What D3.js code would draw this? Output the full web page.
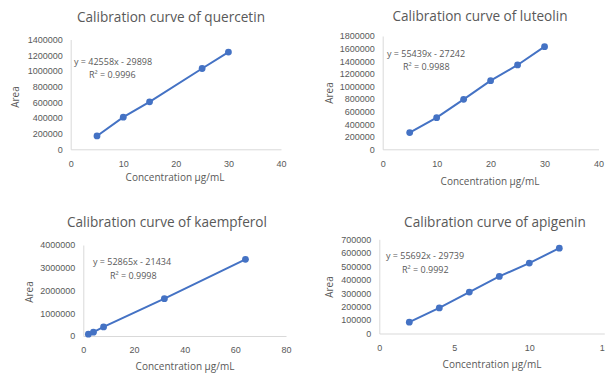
<!DOCTYPE html>
<html>
<head>
<meta charset="utf-8">
<script src="https://cdn.jsdelivr.net/npm/d3@7"></script>
<style>
  body { margin: 0; background: #fff; }
  svg { display: block; font-family: "Open Sans", sans-serif; }
</style>
</head>
<body>
<div id="chart"></div>
<script>
// data
const quercetinConc = [5, 10, 15, 25, 30];
const quercetinArea = [170000, 410000, 605000, 1030000, 1240000];
const luteolinConc = [5, 10, 15, 20, 25, 30];
const luteolinArea = [265000, 503000, 794000, 1090000, 1340000, 1630000];
const kaempferolConc = [2, 4, 8, 32, 64];
const kaempferolArea = [80000, 170000, 400000, 1640000, 3370000];
const apigeninConc = [2, 4, 6, 8, 10, 12];
const apigeninArea = [84000, 190000, 308000, 424000, 523000, 634000];

const quercetinXTicks = [0, 10, 20, 30, 40];
const quercetinYTicks = [0, 200000, 400000, 600000, 800000, 1000000, 1200000, 1400000];
const luteolinXTicks = [0, 10, 20, 30, 40];
const luteolinYTicks = [0, 200000, 400000, 600000, 800000, 1000000, 1200000, 1400000, 1600000, 1800000];
const kaempferolXTicks = [0, 20, 40, 60, 80];
const kaempferolYTicks = [0, 1000000, 2000000, 3000000, 4000000];
const apigeninXTicks = [0, 5, 10, 15];
const apigeninYTicks = [0, 100000, 200000, 300000, 400000, 500000, 600000, 700000];

const titles = ['Calibration curve of quercetin', 'Calibration curve of luteolin',
  'Calibration curve of kaempferol', 'Calibration curve of apigenin'];
const equations = ['y = 42558x - 29898', 'y = 55439x - 27242', 'y = 52865x - 21434', 'y = 55692x - 29739'];
const rSquared = ['R\u00b2 = 0.9996', 'R\u00b2 = 0.9988', 'R\u00b2 = 0.9998', 'R\u00b2 = 0.9992'];
const xTitle = 'Concentration \u00b5g/mL';
const yTitle = 'Area';

const width = 605, height = 373;
const blue = '#4472c4', grey = '#595959', axisGrey = '#d9d9d9';

// panel geometry
const panels = [
  { conc: quercetinConc, area: quercetinArea, xt: quercetinXTicks, yt: quercetinYTicks,
    x0: 70.7, x1: 281, y0: 149.3, y1: 39.5, tx: 171, ty: 18, ax: 16, ay: 97,
    ex: 74, ey: 63, rx: 89, ry: 76, cx: 175, cy: 178 },
  { conc: luteolinConc, area: luteolinArea, xt: luteolinXTicks, yt: luteolinYTicks,
    x0: 382.7, x1: 598.5, y0: 149.3, y1: 36, tx: 480, ty: 17, ax: 330, ay: 93,
    ex: 387, ey: 55, rx: 403, ry: 68, cx: 490, cy: 182 },
  { conc: kaempferolConc, area: kaempferolArea, xt: kaempferolXTicks, yt: kaempferolYTicks,
    x0: 83.3, x1: 286, y0: 336, y1: 245, tx: 167, ty: 223, ax: 30, ay: 292,
    ex: 93, ey: 263, rx: 110, ry: 277, cx: 185, cy: 367 },
  { conc: apigeninConc, area: apigeninArea, xt: apigeninXTicks, yt: apigeninYTicks,
    x0: 379.3, x1: 604.3, y0: 333.5, y1: 239.3, tx: 495, ty: 223, ax: 330, ay: 287,
    ex: 386, ey: 257, rx: 402, ry: 271, cx: 492, cy: 365 }
];

const svg = d3.select('#chart').append('svg')
  .attr('width', width)
  .attr('height', height);

panels.forEach((p, i) => {
  const g = svg.append('g');
  const x = d3.scaleLinear().domain(d3.extent(p.xt)).range([p.x0, p.x1]);
  const y = d3.scaleLinear().domain(d3.extent(p.yt)).range([p.y0, p.y1]);

  // axes, no tick marks
  const yAxis = g.append('g')
    .attr('transform', `translate(${p.x0},0)`)
    .call(d3.axisLeft(y).tickValues(p.yt).tickSize(0).tickPadding(8).tickFormat(d3.format('d')));
  const xAxis = g.append('g')
    .attr('transform', `translate(0,${p.y0})`)
    .call(d3.axisBottom(x).tickValues(p.xt).tickSize(0).tickPadding(11).tickFormat(d3.format('d')));
  [yAxis, xAxis].forEach(a => {
    a.select('.domain').attr('stroke', axisGrey).attr('stroke-width', 1);
    a.selectAll('text').attr('fill', grey).style('font-size', '9px');
  });

  g.append('text')
    .attr('x', p.tx).attr('y', p.ty)
    .attr('text-anchor', 'middle').attr('dominant-baseline', 'middle')
    .attr('fill', grey).style('font-size', '13.6px')
    .text(titles[i]);

  g.append('text')
    .attr('transform', `translate(${p.ax},${p.ay}) rotate(-90)`)
    .attr('text-anchor', 'middle').attr('dominant-baseline', 'middle')
    .attr('fill', grey).style('font-size', '10px')
    .text(yTitle);
  g.append('text')
    .attr('x', p.cx).attr('y', p.cy)
    .attr('text-anchor', 'middle').attr('dominant-baseline', 'middle')
    .attr('fill', grey).style('font-size', '10px')
    .text(xTitle);

  // series line + markers
  const pts = p.conc.map((c, k) => [c, p.area[k]]);
  g.append('path')
    .datum(pts)
    .attr('fill', 'none')
    .attr('stroke', blue)
    .attr('stroke-width', 2)
    .attr('d', d3.line().x(d => x(d[0])).y(d => y(d[1])));
  g.selectAll('circle')
    .data(pts)
    .enter()
    .append('circle')
    .attr('cx', d => x(d[0]))
    .attr('cy', d => y(d[1]))
    .attr('r', 3.4)
    .attr('fill', blue);

  // trendline labels
  g.append('text')
    .attr('x', p.ex).attr('y', p.ey)
    .attr('dominant-baseline', 'middle')
    .attr('fill', grey).style('font-size', '9px')
    .text(equations[i]);
  g.append('text')
    .attr('x', p.rx).attr('y', p.ry)
    .attr('dominant-baseline', 'middle')
    .attr('fill', grey).style('font-size', '9px')
    .text(rSquared[i]);
});
</script>
</body>
</html>
